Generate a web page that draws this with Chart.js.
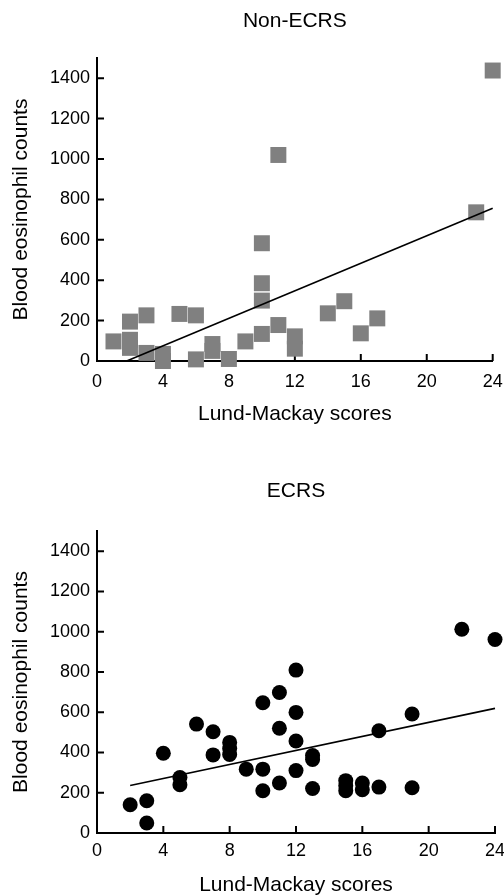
<!DOCTYPE html>
<html><head><meta charset="utf-8">
<script src="https://cdn.jsdelivr.net/npm/chart.js@4"></script>
<style>
html,body{margin:0;padding:0;background:#fff;width:504px;height:895px;overflow:hidden;}
canvas{display:block;position:absolute;left:0;}
#c1{top:0;width:504px;height:440px;}
#c2{top:440px;width:504px;height:455px;}
</style></head><body>
<canvas id="c1" width="504" height="440"></canvas>
<canvas id="c2" width="504" height="455"></canvas>
<script>
const FONT = '"Liberation Sans", Arial, Helvetica, sans-serif';
const xTicks = [0, 4, 8, 12, 16, 20, 24];
const yTicks = [0, 200, 400, 600, 800, 1000, 1200, 1400];

// Non-ECRS
const nonEcrsX = [1, 2, 2, 2, 3, 3, 4, 4, 5, 6, 6, 7, 7, 8, 9, 10, 10, 10, 10, 11, 11, 12, 12, 14, 15, 16, 17, 23, 24];
const nonEcrsY = [97, 195, 105, 65, 226, 40, 35, 0, 233, 226, 8, 84, 50, 10, 97, 583, 385, 299, 134, 1020, 178, 122, 61, 236, 296, 137, 211, 736, 1438];
const nonEcrsFitX = [1.8, 24];
const nonEcrsFitY = [0, 756];

// ECRS
const ecrsX = [2, 3, 3, 4, 5, 5, 6, 7, 7, 8, 8, 8, 9, 10, 10, 10, 11, 11, 11, 12, 12, 12, 12, 13, 13, 13, 15, 15, 15, 16, 16, 17, 17, 19, 19, 22, 24];
const ecrsY = [140, 160, 50, 396, 276, 240, 541, 503, 388, 450, 420, 390, 317, 647, 317, 210, 698, 520, 248, 809, 599, 457, 310, 385, 365, 221, 260, 235, 210, 248, 215, 228, 508, 591, 225, 1012, 961];
const ecrsFitX = [2, 24];
const ecrsFitY = [236, 619];

const inTicks = {
  id: 'inTicks',
  beforeDatasetsDraw(chart) {
    const ctx = chart.ctx, a = chart.chartArea, sx = chart.scales.x, sy = chart.scales.y;
    ctx.save();
    ctx.strokeStyle = '#000';
    ctx.lineWidth = 2;
    ctx.beginPath();
    sx.ticks.forEach(t => { const px = sx.getPixelForValue(t.value); ctx.moveTo(px, a.bottom); ctx.lineTo(px, a.bottom - 7); });
    sy.ticks.forEach(t => { const py = sy.getPixelForValue(t.value); ctx.moveTo(a.left, py); ctx.lineTo(a.left + 7, py); });
    ctx.stroke();
    ctx.restore();
  }
};

function makeChart(id, p) {
  return new Chart(document.getElementById(id), {
    type: 'scatter',
    data: { datasets: [
      { data: p.fitX.map((x, i) => ({x, y: p.fitY[i]})), showLine: true, borderColor: '#000', borderWidth: 1.6, pointRadius: 0, clip: false, order: 0 },
      { data: p.x.map((x, i) => ({x, y: p.y[i]})), pointStyle: p.style, pointRadius: p.r, backgroundColor: p.color, borderWidth: 0, clip: false, order: 1 }
    ]},
    options: {
      responsive: false, animation: false, events: [],
      layout: { padding: { top: 0, left: 0, right: 9, bottom: 0 } },
      plugins: {
        legend: { display: false }, tooltip: { enabled: false },
        title: { display: true, text: p.title, fullSize: false, color: '#000',
          font: { family: FONT, size: 21, weight: 'normal' }, padding: { top: p.tT, bottom: p.tB } }
      },
      scales: {
        x: {
          type: 'linear', min: 0, max: 24,
          afterBuildTicks: s => { s.ticks = xTicks.map(v => ({value: v})); },
          ticks: { padding: p.xTickPad, color: '#000', font: { family: FONT, size: 18 }, maxRotation: 0, autoSkip: false, callback: v => String(v) },
          grid: { display: true, drawOnChartArea: false, drawTicks: false },
          border: { display: true, color: '#000', width: 2 },
          title: { display: true, text: 'Lund-Mackay scores', color: '#000', font: { family: FONT, size: 21 }, padding: { top: 0, bottom: p.xTitlePad } },
          afterFit: s => { s.height = p.xH; s.paddingLeft = 0; s.paddingRight = 0; }
        },
        y: {
          type: 'linear', min: 0, max: 1500,
          afterBuildTicks: s => { s.ticks = yTicks.map(v => ({value: v})); },
          ticks: { padding: 7, color: '#000', font: { family: FONT, size: 18 }, callback: v => String(v) },
          grid: { display: true, drawOnChartArea: false, drawTicks: false },
          border: { display: true, color: '#000', width: 2 },
          title: { display: true, text: 'Blood eosinophil counts', color: '#000', font: { family: FONT, size: 21 }, padding: { top: 8.4, bottom: 0 } },
          afterFit: s => { s.width = 97; s.paddingTop = 0; s.paddingBottom = 0; }
        }
      }
    },
    plugins: [inTicks]
  });
}

makeChart('c1', { title: 'Non-ECRS', x: nonEcrsX, y: nonEcrsY, fitX: nonEcrsFitX, fitY: nonEcrsFitY,
  style: 'rect', r: 11.3, color: '#808080', tT: 8.4, tB: 24.4, xTickPad: 10.7, xTitlePad: 13.4, xH: 79 });
makeChart('c2', { title: 'ECRS', x: ecrsX, y: ecrsY, fitX: ecrsFitX, fitY: ecrsFitY,
  style: 'circle', r: 7.5, color: '#000', tT: 38.4, tB: 27.4, xTickPad: 7.2, xTitlePad: -2.6, xH: 62 });
</script>
</body></html>
